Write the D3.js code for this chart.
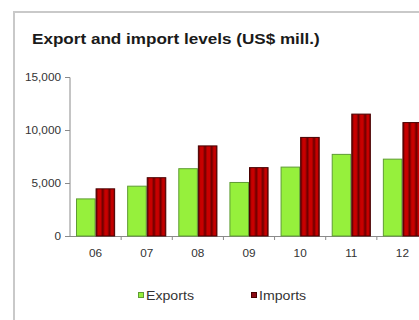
<!DOCTYPE html>
<html>
<head>
<meta charset="utf-8">
<script src="https://cdn.jsdelivr.net/npm/d3@7"></script>
<style>
  body { margin: 0; background: #fff; }
  svg { display: block; }
</style>
</head>
<body>
<svg width="419" height="320"></svg>
<script>
// Data
const years = ["06", "07", "08", "09", "10", "11", "12"];
const exportsVals = [3500, 4700, 6350, 5050, 6500, 7700, 7250];
const importsVals = [4450, 5500, 8500, 6450, 9300, 11500, 10700];
const yTicks = [0, 5000, 10000, 15000];
const seriesNames = ["Exports", "Imports"];

const svg = d3.select("svg");
const font = "Liberation Sans, Arial, sans-serif";
const stretch = 1.18;

//helper: horizontally stretched text
function addText(parent, tx, ty, str, size, anchor, weight) {
    return parent.append("text")
        .attr("transform", `translate(${tx},${ty}) scale(${stretch},1)`)
        .attr("text-anchor", anchor || "start")
        .attr("font-family", font)
        .attr("font-weight", weight || "normal")
        .attr("font-size", size)
        .attr("fill", "#333")
        .text(str);
}

//Frame
svg.append("path")
    .attr("d", "M14,330 L14,12 L430,12")
    .attr("fill", "none")
    .attr("stroke", "#c9c9c9")
    .attr("stroke-width", 2);

//Title
addText(svg, 32, 44, "Export and import levels (US$ mill.)", 14.5, "start", "bold")
    .attr("fill", "#1a1a1a");

//Gradient for import bars
const defs = svg.append("defs");
const grad = defs.append("linearGradient")
    .attr("id", "impGrad")
    .attr("x1", 0).attr("x2", 1).attr("y1", 0).attr("y2", 0);
const stops = [
    [0, "#5a0000"], [0.12, "#c80000"], [0.24, "#c80000"], [0.36, "#6a0000"],
    [0.48, "#c80000"], [0.6, "#c80000"], [0.72, "#6a0000"], [0.84, "#c80000"],
    [0.92, "#c00000"], [1, "#5a0000"]
];
stops.forEach(s => grad.append("stop").attr("offset", s[0]).attr("stop-color", s[1]));

//Scales
const x = d3.scaleBand().domain(years).range([70, 428]).paddingInner(0).paddingOuter(0);
const y = d3.scaleLinear().domain([0, 15000]).range([236, 77]);
const pad = 6;
const bw = (x.bandwidth() - 2 * pad) / 2;

//Y axis
const yaxis = d3.axisLeft(y).tickValues(yTicks).tickFormat(d3.format(",")).tickSize(5);
const gy = svg.append("g").attr("transform", "translate(70,0)").call(yaxis);
gy.select(".domain").attr("stroke", "#8a8a8a").attr("d", "M-5,77.5H0V236.5");
gy.selectAll(".tick line").attr("stroke", "#8a8a8a");
gy.selectAll(".tick text").remove();
gy.selectAll(".tick").each(function(d) {
    addText(d3.select(this), -9, 3.5, d3.format(",")(d), 10, "end");
});

//X axis
const gx = svg.append("g").attr("transform", "translate(0,236)");
gx.append("line").attr("x1", 70).attr("x2", 430).attr("y1", 0.5).attr("y2", 0.5).attr("stroke", "#8a8a8a");
gx.selectAll(".sep")
    .data(years.slice(1))
    .enter().append("line")
    .attr("x1", d => x(d)).attr("x2", d => x(d))
    .attr("y1", 0).attr("y2", 4)
    .attr("stroke", "#8a8a8a");
years.forEach(d => addText(gx, x(d) + x.bandwidth() / 2, 21, d, 10, "middle"));

//Bars
svg.append("g").selectAll("rect")
    .data(years)
    .enter().append("rect")
    .attr("x", d => x(d) + pad + 0.5)
    .attr("y", (d, i) => y(exportsVals[i]))
    .attr("width", bw - 1)
    .attr("height", (d, i) => y(0) - y(exportsVals[i]))
    .attr("fill", "#96f03c")
    .attr("stroke", "#5f9c34")
    .attr("stroke-width", 1);

svg.append("g").selectAll("rect")
    .data(years)
    .enter().append("rect")
    .attr("x", d => x(d) + pad + bw + 0.5)
    .attr("y", (d, i) => y(importsVals[i]))
    .attr("width", bw - 1)
    .attr("height", (d, i) => y(0) - y(importsVals[i]))
    .attr("fill", "url(#impGrad)")
    .attr("stroke", "#4a0000")
    .attr("stroke-width", 1);

//Legend
const legend = svg.append("g");
const lx = [138, 251];
const lcol = ["#96f03c", "#8b0a14"];
const lstroke = ["#5f9c34", "#4a0000"];
seriesNames.forEach((n, i) => {
    legend.append("rect")
        .attr("x", lx[i] + 0.5).attr("y", 292.5)
        .attr("width", 5).attr("height", 5)
        .attr("fill", lcol[i]).attr("stroke", lstroke[i]);
    addText(legend, lx[i] + 8, 299.5, n, 12, "start");
});
</script>
</body>
</html>
